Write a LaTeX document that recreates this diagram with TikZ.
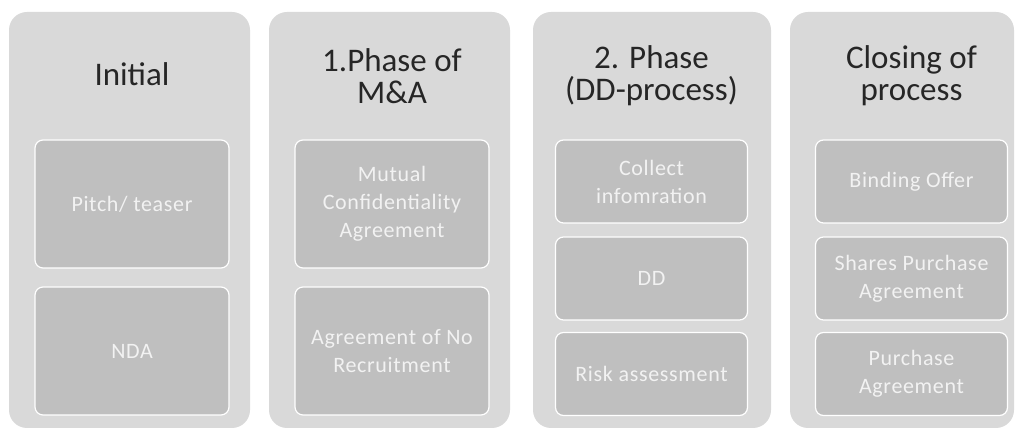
\documentclass[tikz,border=0pt]{standalone}
\usepackage{fontspec}
\setmainfont{Carlito}
\newfontfamily\itemfont[LetterSpace=3]{Carlito}
\usepackage{tikz}
\usetikzlibrary{positioning}
\definecolor{panel}{RGB}{217,217,217}
\definecolor{tile}{RGB}{191,191,191}
\definecolor{tiletext}{RGB}{242,242,242}
\definecolor{head}{RGB}{38,38,38}

\begin{document}
\begin{tikzpicture}[x=1pt,y=1pt,
  panel/.style={fill=panel,draw=none,rounded corners=18pt,minimum height=416pt,inner sep=0pt},
  tile/.style={fill=tile,draw=white,line width=1.2pt,rounded corners=8pt,inner sep=0pt,
    align=center,text=tiletext,font=\itemfont\fontsize{22}{28}\selectfont},
  tall/.style={tile,minimum width=194pt,minimum height=128pt},
  short/.style={tile,minimum width=192pt,minimum height=83pt},
  head/.style={align=center,text=head,font=\fontsize{33}{32}\selectfont}]
  \useasboundingbox (0,0) rectangle (1018,428);
  % grey columns
  \node[panel,minimum width=241pt] (p1) at (129.5,208) {};
  \node[panel,minimum width=241pt] (p2) at (389.5,208) {};
  \node[panel,minimum width=238pt] (p3) at (652,208) {};
  \node[panel,minimum width=224pt] (p4) at (902,208) {};
  % column headings
  \node[head] (h1) at (132,354) {Initial};
  \node[head] (h2) at (392,352) {1.Phase of\\M\&A};
  \node[head] (h3) at (651.5,352) {2. Phase\\(DD-process)};
  \node[head] (h4) at (911.5,352) {Closing of\\process};
  % steps in each column
  \node[tall] (a1) at (132,224) {Pitch/ teaser};
  \node[tall] (a2) at (132,77) {NDA};
  \node[tall] (b1) at (392,224) {Mutual\\Confidentiality\\Agreement};
  \node[tall] (b2) at (392,77) {Agreement of No\\Recruitment};
  \node[short] (c1) at (651.5,246.5) {Collect\\infomration};
  \node[short] (c2) at (651.5,149.5) {DD};
  \node[short] (c3) at (651.5,54) {Risk assessment};
  \node[short] (d1) at (911.5,246.5) {Binding Offer};
  \node[short] (d2) at (911.5,149.5) {Shares Purchase\\Agreement};
  \node[short] (d3) at (911.5,54) {Purchase\\Agreement};
\end{tikzpicture}
\end{document}
